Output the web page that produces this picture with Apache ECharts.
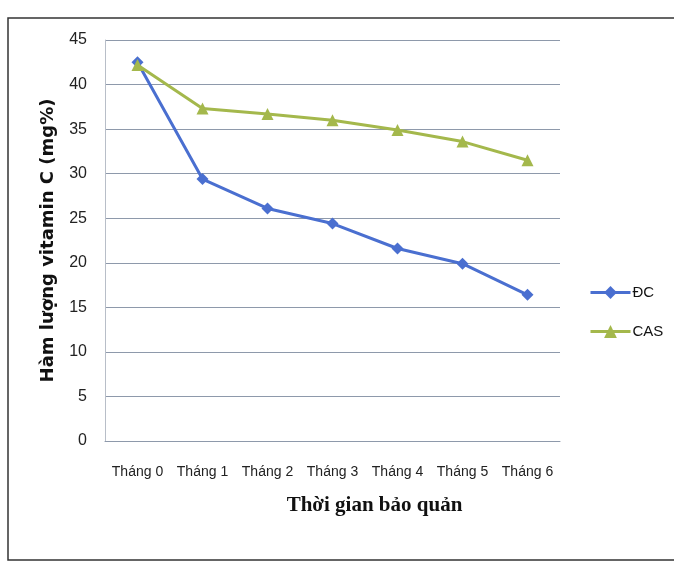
<!DOCTYPE html>
<html><head><meta charset="utf-8">
<script src="https://cdn.jsdelivr.net/npm/echarts@6/dist/echarts.min.js"></script>
<style>html,body{margin:0;padding:0;background:#fff}#c{width:674px;height:569px}</style>
</head><body><div id="c"></div>
<script>
const categories = ['Tháng 0','Tháng 1','Tháng 2','Tháng 3','Tháng 4','Tháng 5','Tháng 6'];
const seriesDC = [42.5, 29.4, 26.1, 24.4, 21.6, 19.9, 16.4];
const seriesCAS = [42.2, 37.3, 36.7, 36.0, 34.9, 33.6, 31.5];
const chart = echarts.init(document.getElementById('c'));
chart.setOption({
  animation: false,
  graphic: [{type:'rect', shape:{x:8,y:18,width:700,height:542}, style:{fill:'none', stroke:'#333', lineWidth:1.5}, z:-1}],
  grid: {left:105, right:114, top:40, bottom:128},
  legend: {
    orient:'vertical', left:584, top:280, itemGap:24, itemWidth:40, itemHeight:16,
    lineStyle:{width:3},
    textStyle:{fontFamily:'Liberation Sans', fontSize:15, color:'#111', padding:[0,0,0,-3]},
    data:['ĐC','CAS']
  },
  xAxis: {
    type:'category', data:categories, boundaryGap:true,
    axisLine:{show:true, lineStyle:{color:'#8e99ab'}}, axisTick:{show:false},
    axisLabel:{fontFamily:'Liberation Sans', fontSize:14, color:'#222', margin:24, interval:0},
    name:'Thời gian bảo quản', nameLocation:'middle', nameGap:54,
    nameTextStyle:{fontFamily:'Liberation Serif', fontWeight:'bold', fontSize:21, color:'#111', padding:[0,0,0,84]}
  },
  yAxis: {
    type:'value', min:0, max:45, interval:5,
    axisLine:{show:true, lineStyle:{color:'#b8bec8'}}, axisTick:{show:false},
    splitLine:{lineStyle:{color:'#8e99ab', width:1}},
    axisLabel:{fontFamily:'Liberation Sans', fontSize:16, color:'#222', margin:18},
    name:'Hàm lượng vitamin C (mg%)', nameLocation:'middle', nameGap:48, nameRotate:90,
    nameTextStyle:{fontFamily:'DejaVu Sans', fontWeight:'bold', fontSize:18, color:'#111'}
  },
  series: [
    {name:'ĐC', type:'line', data:seriesDC, symbol:'diamond', symbolSize:12,
     lineStyle:{color:'#4a6fd0', width:3}, itemStyle:{color:'#4a6fd0'}},
    {name:'CAS', type:'line', data:seriesCAS, symbol:'triangle', symbolSize:12,
     lineStyle:{color:'#a4b84c', width:3}, itemStyle:{color:'#a4b84c'}}
  ]
});
</script></body></html>
